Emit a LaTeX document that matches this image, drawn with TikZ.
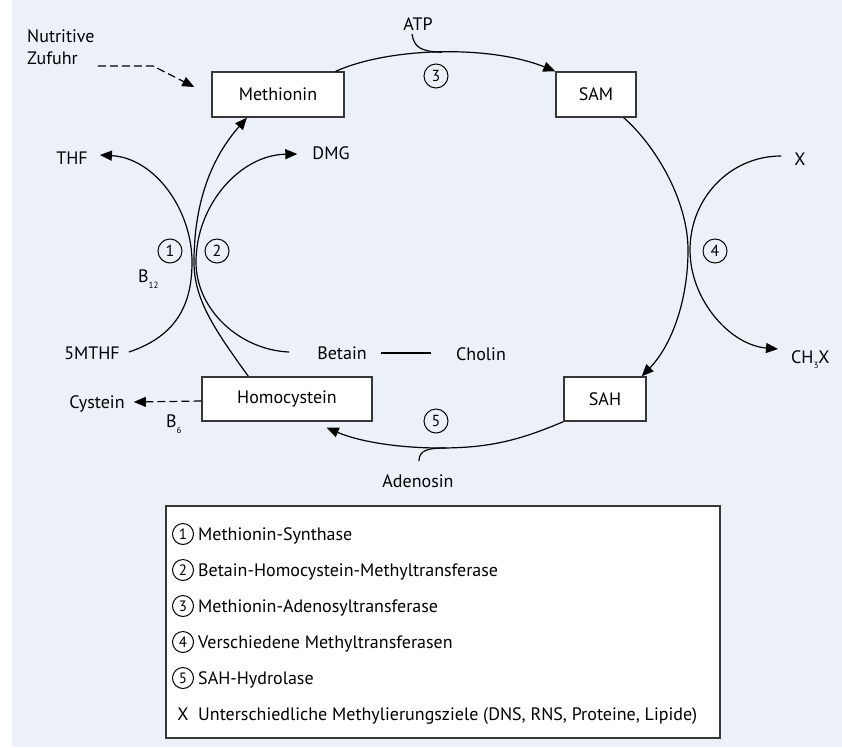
\documentclass[tikz,border=0pt]{standalone}
\usepackage{fontspec}
\setmainfont{PT Sans}
\usetikzlibrary{arrows.meta}
\definecolor{bg}{RGB}{236,241,249}
\definecolor{boxline}{RGB}{55,55,55}
\begin{document}
\begin{tikzpicture}[x=1pt,y=-1pt,
  every node/.style={font=\fontsize{18}{21}\selectfont, inner sep=0pt},
  box/.style={draw=boxline, line width=1.4pt, fill=white, minimum height=45pt},
  flow/.style={line width=1.2pt},
  arr/.style={-{Triangle[length=12pt,width=10pt]}},
  enz/.style={draw, circle, line width=1pt, minimum size=24pt, font=\fontsize{16}{16}\selectfont},
  lenz/.style={draw, circle, line width=1pt, minimum size=21pt, font=\fontsize{15}{15}\selectfont},
  dsh/.style={dash pattern=on 8pt off 4pt},
  lbl/.style={anchor=base}
]
\useasboundingbox (0,0) rectangle (842,747);
\fill[bg] (12,0) rectangle (842,747);

% boxes
\node[box, minimum width=132pt] (met) at (278,94.5) {Methionin};
\node[box, minimum width=80pt] (sam) at (596,94.5) {SAM};
\node[box, minimum width=170pt, minimum height=44pt] (hcy) at (287,399) {Homocystein};
\node[box, minimum width=82pt, minimum height=44pt] (sah) at (605,399) {SAH};

% labels
\node[anchor=base west] (nut1) at (27,42) {Nutritive};
\node[anchor=base west] (nut2) at (27,64) {Zufuhr};
\node[lbl] (atp) at (418,30) {ATP};
\node[lbl] (thf) at (72,164) {THF};
\node[lbl] (dmg) at (331,159) {DMG};
\node[lbl] (mthf) at (92,359) {5MTHF};
\node[lbl] (bet) at (342,359) {Betain};
\node[lbl] (cho) at (481,360) {Cholin};
\node[lbl] (cys) at (97,408) {Cystein};
\node[lbl] (ade) at (418,487) {Adenosin};
\node[lbl] (x) at (800,165) {X};
\node[anchor=base west] (ch3x) at (791,363) {CH\raisebox{-5pt}{\fontsize{9}{9}\selectfont 3}X};
\node[anchor=base west] (b12) at (138,282) {B\raisebox{-6pt}{\fontsize{9}{9}\selectfont 12}};
\node[anchor=base west] (b6) at (166,427) {B\raisebox{-6pt}{\fontsize{9}{9}\selectfont 6}};

% enzyme circles
\node[enz] (e1) at (170,251) {1};
\node[enz] (e2) at (217,251) {2};
\node[enz] (e3) at (436,76) {3};
\node[enz] (e4) at (715,251) {4};
\node[enz] (e5) at (436,421) {5};

% nutritive supply
\coordinate (nbend) at (153,66);
\draw[flow, dsh, arr] ([xshift=20pt, yshift=-2pt]nut2.base east) -- (nbend) -- ([xshift=-17pt, yshift=7.5pt]met.west);

% Methionin -> SAM
\draw[flow, arr] ([xshift=-9pt]met.north east) .. controls (390,47) and (490,45) .. (sam.north west);
\coordinate (j3) at (442,52.3);
\draw[flow] ([xshift=-6pt, yshift=-4pt]atp.base) .. controls (414,48) and (422,51.5) .. (j3);

% SAM -> SAH
\draw[flow, arr] ([xshift=-13pt]sam.south east) .. controls (655,145) and (688,200) .. (688,250) .. controls (688,300) and (672,345) .. ([xshift=-5pt]sah.north east);

% X -> CH3X
\draw[flow, arr] ([xshift=-13pt, yshift=9pt]x.base west) .. controls (730,156) and (690,198) .. (690,250) .. controls (690,300) and (730,345) .. ([xshift=-13pt, yshift=14pt]ch3x.base west);

% SAH -> Homocystein
\draw[flow, arr] (sah.south west) .. controls (520,440) and (490,448) .. (440,448) .. controls (400,448) and (360,442) .. ([xshift=-46pt, yshift=-6pt]hcy.south east);
\coordinate (j5) at (446,448);
\draw[flow] ([xshift=1pt, yshift=26pt]ade.base) .. controls (419,450) and (428,448) .. (j5);

% Homocystein -> Methionin
\draw[flow, arr] ([xshift=47pt]hcy.north west) .. controls (215,330) and (194,300) .. (194,262) .. controls (194,215) and (205,165) .. ([xshift=-31pt]met.south);

% 5MTHF -> THF
\draw[flow, arr] ([xshift=9pt, yshift=7pt]mthf.base east) .. controls (180,335) and (192,300) .. (192,262) .. controls (192,210) and (155,158) .. ([xshift=12pt, yshift=9pt]thf.base east);

% Betain -> DMG
\draw[flow, arr] ([xshift=-28pt, yshift=7pt]bet.base west) .. controls (240,350) and (196,310) .. (196,262) .. controls (196,205) and (240,155) .. ([xshift=-15pt, yshift=5pt]dmg.base west);

% Betain -- Cholin
\draw[flow] ([xshift=14pt, yshift=6pt]bet.base east) -- ([xshift=-25pt, yshift=7pt]cho.base west);

% Homocystein -> Cystein
\draw[flow, dsh, arr] ([yshift=-2pt]hcy.west) -- ([xshift=9pt, yshift=6pt]cys.base east);

% legend
\node[draw=boxline, line width=1.4pt, fill=white, minimum width=554pt, minimum height=232pt] (leg) at (443,622) {};
\node[lenz] (l1) at (183,534) {1};
\node[lenz] (l2) at (183,570) {2};
\node[lenz] (l3) at (183,606) {3};
\node[lenz] (l4) at (183,642) {4};
\node[lenz] (l5) at (183,678) {5};
\node[lbl] (lx) at (183,720) {X};
\node[anchor=base west] (t1) at (198,540) {Methionin-Synthase};
\node[anchor=base west] (t2) at (198,576) {Betain-Homocystein-Methyltransferase};
\node[anchor=base west] (t3) at (198,612) {Methionin-Adenosyltransferase};
\node[anchor=base west] (t4) at (198,648) {Verschiedene Methyltransferasen};
\node[anchor=base west] (t5) at (198,684) {SAH-Hydrolase};
\node[anchor=base west] (t6) at (198,720) {Unterschiedliche Methylierungsziele (DNS, RNS, Proteine, Lipide)};
\end{tikzpicture}
\end{document}
